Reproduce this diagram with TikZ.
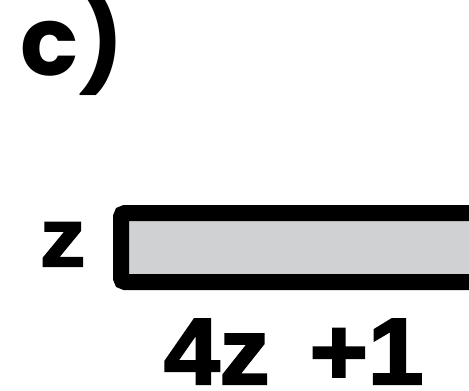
\documentclass[tikz,border=0pt]{standalone}
\usepackage{fontspec}
\setmainfont{Poppins}[BoldFont={* Bold}]
\newfontfamily\lsans{Liberation Sans Bold}[FakeBold=2.5]
\begin{document}
\begin{tikzpicture}[x=1pt,y=-1pt,
  lbl/.style={inner sep=0pt,anchor=base west,font=\bfseries}]
\useasboundingbox (0,0) rectangle (469,391);
\node[lbl,font=\fontsize{96}{96}\bfseries] (title) at (20,75) {c)};
\node[lbl,font=\lsans\fontsize{82}{82}\selectfont] (zlbl) at (40,266) {\scalebox{1.1}[1]{z}};
\node[lbl,font=\lsans\fontsize{94}{94}\selectfont] (len) at (164,384) {\scalebox{1.06}[1]{4z\hspace{12pt} +1}};
\begin{scope}
\clip (0,0) rectangle (469,391);
\draw[line width=16pt,fill={rgb,255:red,208;green,209;blue,211},rounded corners=4pt] (121,213) rectangle (478,282);
\end{scope}
\end{tikzpicture}
\end{document}
